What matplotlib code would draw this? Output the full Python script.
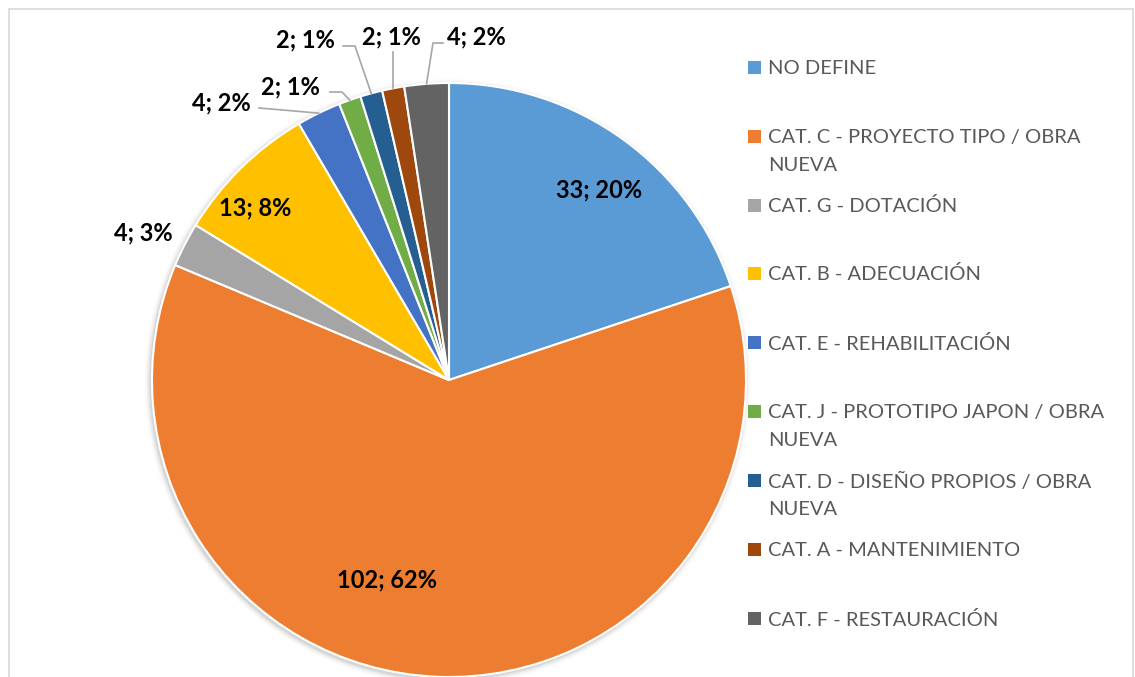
import matplotlib
matplotlib.use("Agg")
import matplotlib.pyplot as plt
from matplotlib.patches import Rectangle, Circle
import numpy as np

categories = ["NO DEFINE", "CAT. C - PROYECTO TIPO / OBRA\nNUEVA", "CAT. G - DOTACIÓN",
              "CAT. B - ADECUACIÓN", "CAT. E - REHABILITACIÓN",
              "CAT. J - PROTOTIPO JAPON / OBRA\nNUEVA", "CAT. D - DISEÑO PROPIOS / OBRA\nNUEVA",
              "CAT. A - MANTENIMIENTO", "CAT. F - RESTAURACIÓN"]
values = [33, 102, 4, 13, 4, 2, 2, 2, 4]
pct_labels = ["20%", "62%", "3%", "8%", "2%", "1%", "1%", "1%", "2%"]
colors = ["#5B9BD5", "#ED7D31", "#A5A5A5", "#FFC000", "#4472C4",
          "#70AD47", "#255E91", "#9E480E", "#636363"]

W, H = 1135, 677
fig = plt.figure(figsize=(W / 100, H / 100), dpi=100)
ax = fig.add_axes([0, 0, 1, 1])

def py(y):  # pixel-from-top to axes y
    return H - y

cx, cy, R = 449, py(380), 297

# soft shadow
for i, a in enumerate([0.06, 0.045, 0.03, 0.02, 0.012]):
    ax.add_patch(Circle((cx - 1.5, cy - 2), R + 1 + i * 1.3, color="black", alpha=a, lw=0, zorder=1))

wedges, _ = ax.pie(values, colors=colors, startangle=90, counterclock=False,
                   center=(cx, cy), radius=R, frame=True,
                   wedgeprops=dict(edgecolor="white", linewidth=1.5, zorder=2))
ax.set_xlim(0, W)
ax.set_ylim(0, H)
ax.set_aspect("equal")
ax.axis("off")

# chart frame
ax.add_patch(Rectangle((8.5, py(700)), 1124, 700 - 9, fill=False, edgecolor="#D9D9D9", lw=1.2))

lab_font = dict(family="Lato", fontsize=17, fontweight="bold", color="black")
texts = [f"{v}; {p}" for v, p in zip(values, pct_labels)]

# inside labels
inside_pos = {0: (599, 190), 1: (387, 580), 3: (255, 208)}
for i, (x, y) in inside_pos.items():
    ax.text(x, py(y), texts[i], ha="center", va="center", zorder=5, **lab_font)

# outside labels
ax.text(143, py(233), texts[2], ha="center", va="center", zorder=5, **lab_font)

total = sum(values)
ang = 90.0
mids = []
for v in values:
    span = 360.0 * v / total
    mids.append(ang - span / 2)
    ang -= span

def edge(i):
    t = np.deg2rad(mids[i])
    return cx + R * np.cos(t), cy + R * np.sin(t)

lc = dict(color="#A6A6A6", lw=1.2, zorder=4)
# E
ex, ey = edge(4)
ax.text(221, py(103), texts[4], ha="center", va="center", **lab_font)
ax.plot([259, ex], [py(108), ey], **lc)
# J
ex, ey = edge(5)
ax.text(290, py(87), texts[5], ha="center", va="center", **lab_font)
ax.plot([330, 342, ex], [py(92), py(92), ey], **lc)
# D
ex, ey = edge(6)
ax.text(305, py(40), texts[6], ha="center", va="center", **lab_font)
ax.plot([343, 355, ex], [py(46), py(46), ey], **lc)
# A
ex, ey = edge(7)
ax.text(391, py(37), texts[7], ha="center", va="center", **lab_font)
ax.plot([ex, ex], [py(52), ey], **lc)
# F
ex, ey = edge(8)
ax.text(476, py(37), texts[8], ha="center", va="center", **lab_font)
ax.plot([443, 433, ex], [py(43), py(43), ey], **lc)

# legend
leg_font = dict(family="Lato", fontsize=14.5, color="#595959")
leg_y = [67, 136, 205, 273, 342, 411, 480, 549, 618]
for c, name, y in zip(colors, categories, leg_y):
    ax.add_patch(Rectangle((748, py(y) - 6.5), 13, 13, color=c, lw=0))
    lines = name.split("\n")
    for k, ln in enumerate(lines):
        ax.text(768, py(y + 28 * k), ln, ha="left", va="center_baseline", **leg_font)

fig.savefig("out.png", dpi=100)
